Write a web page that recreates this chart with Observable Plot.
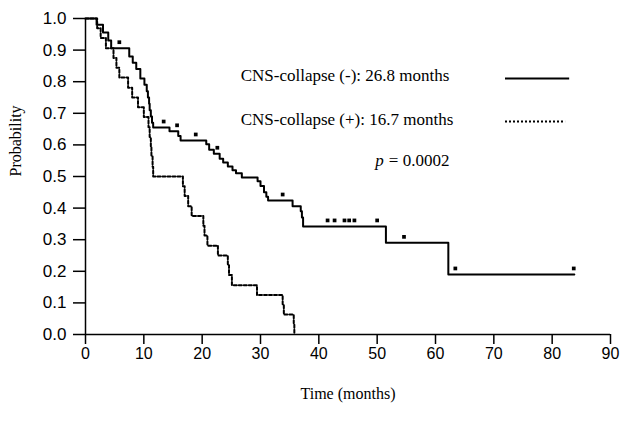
<!DOCTYPE html>
<html><head><meta charset="utf-8">
<script src="https://cdn.jsdelivr.net/npm/d3@7"></script>
<script src="https://cdn.jsdelivr.net/npm/@observablehq/plot@0.6"></script>
<style>body{margin:0;background:#fff} svg{display:block}</style>
</head><body><div id="chart"></div>
<script>
// CNS-collapse (-) : Kaplan-Meier steps (months, survival probability)
const solidTimes = [0, 1.9, 3.0, 3.9, 4.4, 7.5, 8.1, 8.7, 9.4, 10.1, 10.5, 10.7, 10.9, 11.0, 11.2, 11.4, 11.6, 14.4, 15.9, 16.3, 20.7, 21.2, 22.0, 23.0, 23.6, 24.4, 25.2, 25.8, 26.8, 29.5, 30.0, 30.6, 31.0, 31.3, 35.5, 36.9, 37.1, 37.3, 51.5, 62.2, 83.8];
const solidSurv  = [1.0, 0.98, 0.956, 0.93, 0.906, 0.88, 0.86, 0.84, 0.81, 0.79, 0.77, 0.75, 0.73, 0.71, 0.69, 0.67, 0.655, 0.643, 0.628, 0.614, 0.602, 0.585, 0.572, 0.556, 0.544, 0.532, 0.52, 0.51, 0.497, 0.485, 0.47, 0.45, 0.436, 0.424, 0.406, 0.39, 0.37, 0.342, 0.29, 0.19, 0.19];
// censored observations in CNS-collapse (-)
const solidCensorTimes = [5.8, 13.4, 15.7, 18.9, 22.6, 33.8, 41.5, 42.7, 44.4, 45.2, 46.1, 50.0, 54.6, 63.4, 83.7];

// CNS-collapse (+)
const dashedTimes = [0, 2.0, 2.6, 3.5, 4.8, 5.3, 5.8, 7.3, 8.0, 9.0, 10.0, 10.8, 11.0, 11.2, 11.3, 11.5, 11.6, 16.7, 17.0, 17.6, 18.2, 20.2, 20.4, 20.9, 22.7, 24.4, 24.6, 25.1, 29.4, 33.8, 34.0, 35.7, 35.8];
const dashedSurv  = [1, 0.969, 0.938, 0.906, 0.875, 0.844, 0.813, 0.781, 0.75, 0.719, 0.688, 0.656, 0.625, 0.594, 0.563, 0.531, 0.5, 0.469, 0.438, 0.406, 0.375, 0.344, 0.313, 0.281, 0.25, 0.219, 0.188, 0.156, 0.125, 0.094, 0.063, 0.031, 0];

const xTicks = [0, 10, 20, 30, 40, 50, 60, 70, 80, 90];
const yTicks = [0, 0.1, 0.2, 0.3, 0.4, 0.5, 0.6, 0.7, 0.8, 0.9, 1.0];

const legendLabels = ["CNS-collapse (-): 26.8 months", "CNS-collapse (+): 16.7 months"];
const legendY = [0.82, 0.68];
const pLabel = "p";
const pValue = "= 0.0002";

const stepAt = (times, surv, t) => { let v = surv[0]; for (let i = 0; i < times.length; i++) if (times[i] <= t) v = surv[i]; return v; };
const solid = solidTimes.map((t, i) => ({t, s: solidSurv[i]}));
const dashed = dashedTimes.map((t, i) => ({t, s: dashedSurv[i]}));
const censors = solidCensorTimes.map(t => ({t, s: stepAt(solidTimes, solidSurv, t)}));
const legend = legendLabels.map((label, i) => ({label, y: legendY[i], dash: i === 1}));

const serif = "'Liberation Serif', 'Times New Roman', serif";
const sans = "'Liberation Sans', Arial, sans-serif";

const chart = Plot.plot({
  width: 625, height: 436,
  marginLeft: 85, marginRight: 15, marginTop: 18, marginBottom: 102,
  style: {fontFamily: sans, fontSize: "16px", color: "#000", background: "#fff"},
  x: {domain: [0, 90], label: null},
  y: {domain: [0, 1], label: null},
  marks: [
    Plot.axisX({ticks: xTicks, tickSize: 10, tickPadding: 3, label: null, strokeWidth: 1.5, fontSize: 16}),
    Plot.axisY({ticks: yTicks, tickSize: 12, tickPadding: 7, tickFormat: d3.format(".1f"), label: null, strokeWidth: 1.5, fontSize: 17}),
    Plot.ruleX([0], {y1: 0, y2: 1, strokeWidth: 1.5}),
    Plot.ruleY([0], {x1: 0, x2: 90, strokeWidth: 1.5}),
    Plot.line(solid, {x: "t", y: "s", curve: "step-after", strokeWidth: 2, stroke: "#000"}),
    Plot.line(dashed, {x: "t", y: "s", curve: "step-after", strokeWidth: 2, stroke: "#000", strokeDasharray: "3,2"}),
    Plot.dot(censors, {x: "t", y: "s", symbol: "square", r: 2.1, fill: "#000", stroke: null, dy: -6}),
    Plot.text(legend, {x: 26.6, y: "y", text: "label", textAnchor: "start", fontFamily: serif, fontSize: 17}),
    Plot.ruleY(legend.filter(d => !d.dash), {y: "y", x1: 72, x2: 83, dy: 3, strokeWidth: 2}),
    Plot.ruleY(legend.filter(d => d.dash), {y: "y", x1: 72, x2: 82.3, dy: 2, strokeWidth: 2, strokeDasharray: "2,2"}),
    Plot.text([pValue], {x: 57.2, y: 0.55, text: d => d, textAnchor: "middle", fontFamily: serif, fontSize: 17}),
    Plot.text([pLabel], {x: 50.4, y: 0.55, text: d => d, textAnchor: "middle", fontFamily: serif, fontStyle: "italic", fontSize: 17}),
    Plot.text(["Time (months)"], {frameAnchor: "bottom", dy: 64, fontFamily: serif, fontSize: 16}),
    Plot.text(["Probability"], {frameAnchor: "left", dx: -70, rotate: -90, fontFamily: serif, fontSize: 16})
  ]
});
document.getElementById("chart").appendChild(chart);
</script>
</body></html>
